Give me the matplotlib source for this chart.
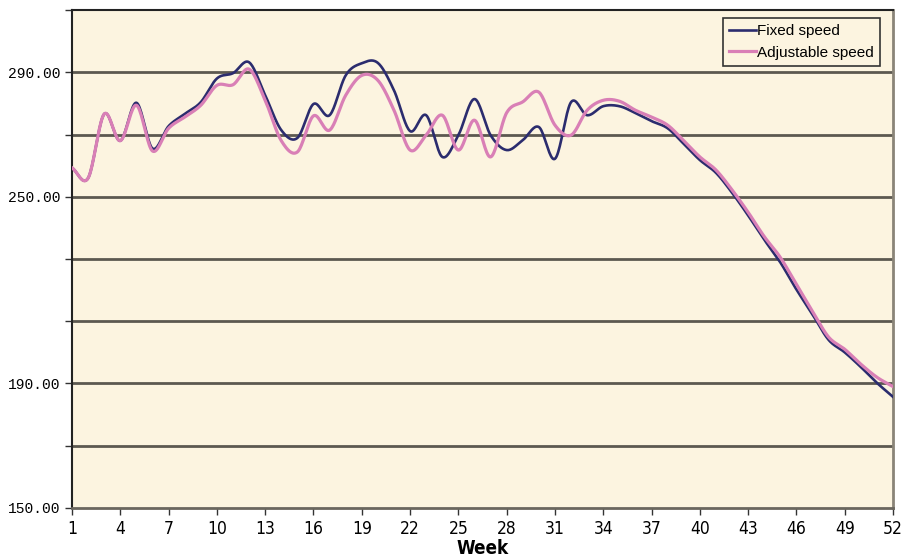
import numpy as np
import matplotlib
matplotlib.use('Agg')
import matplotlib.pyplot as plt

# weekly values
weeks = list(range(1, 53))
fixed_speed = [259.3, 256.0, 276.6, 268.0, 280.2, 265.5, 272.7, 276.6, 280.4, 288.0,
               289.7, 293.2, 282.6, 271.4, 268.9, 279.8, 276.2, 289.0, 292.9, 293.0,
               284.2, 271.1, 276.2, 262.8, 269.8, 281.4, 269.8, 265.0, 268.2, 272.4,
               262.2, 280.4, 276.2, 279.1, 279.1, 276.9, 274.3, 272.0, 267.0, 261.8,
               257.7, 251.3, 244.0, 236.2, 228.9, 220.2, 212.2, 204.0, 200.0, 195.3,
               190.2, 185.7]
adjustable_speed = [259.3, 256.0, 276.6, 268.0, 279.4, 264.7, 272.0, 275.6, 279.4, 285.8,
                    286.0, 291.0, 281.0, 268.0, 264.4, 276.0, 271.4, 282.6, 289.0, 287.4,
                    277.8, 265.0, 269.8, 276.2, 265.0, 274.6, 262.8, 277.0, 280.5, 283.6,
                    273.0, 269.8, 277.8, 281.0, 280.7, 277.8, 275.6, 273.0, 268.0, 262.8,
                    258.6, 252.2, 245.0, 237.2, 230.5, 221.8, 213.2, 204.9, 201.0, 196.2,
                    192.0, 189.0]
week_ticks = list(range(1, 53, 3))
value_ticks = list(range(150, 311, 20))
value_labels = {150: '150.00', 190: '190.00', 250: '250.00', 290: '290.00'}


def smooth(x, y, n=20):
    # Catmull-Rom curve through the points, like Excel's smoothed line
    x = np.asarray(x, float)
    y = np.asarray(y, float)
    px = np.concatenate([[2 * x[0] - x[1]], x, [2 * x[-1] - x[-2]]])
    py = np.concatenate([[2 * y[0] - y[1]], y, [2 * y[-1] - y[-2]]])
    t = np.linspace(0, 1, n, endpoint=False)
    xs, ys = [], []
    for i in range(1, len(px) - 2):
        for p, out in ((px, xs), (py, ys)):
            p0, p1, p2, p3 = p[i - 1], p[i], p[i + 1], p[i + 2]
            out.extend(0.5 * (2 * p1 + (-p0 + p2) * t
                              + (2 * p0 - 5 * p1 + 4 * p2 - p3) * t ** 2
                              + (-p0 + 3 * p1 - 3 * p2 + p3) * t ** 3))
    xs.append(x[-1])
    ys.append(y[-1])
    return xs, ys


narrow = dict(family='DejaVu Sans', stretch='condensed')

fig = plt.figure(figsize=(9.07, 5.6), dpi=100)
ax = fig.add_axes([0.0794, 0.0929, 0.9052, 0.8892])
ax.set_facecolor('#fcf4e0')

for v in value_ticks[1:-1]:
    ax.axhline(v, color='#5c5850', lw=2, zorder=1)

ax.plot(*smooth(weeks, fixed_speed), color='#2b2c6e', lw=1.9, label='Fixed speed', zorder=3)
ax.plot(*smooth(weeks, adjustable_speed), color='#d97fb6', lw=2.3, label='Adjustable speed', zorder=4)

ax.set_xlim(1, 52)
ax.set_ylim(150, 310)
ax.set_xticks(week_ticks)
ax.set_xticklabels([str(w) for w in week_ticks], fontsize=12.5, **narrow)
ax.set_yticks(value_ticks)
ax.set_yticklabels([value_labels.get(v, '') for v in value_ticks], fontsize=10.5,
                   family=['Liberation Mono', 'DejaVu Sans Mono'])
ax.tick_params(direction='out', length=5, width=1, color='#333333')
ax.set_xlabel('Week', fontsize=13.5, fontweight='bold', labelpad=1, **narrow)

for side in ['left', 'top']:
    ax.spines[side].set_color('#222222')
    ax.spines[side].set_linewidth(1.5)
ax.spines['right'].set_color('#8a8478')
ax.spines['right'].set_linewidth(2)
ax.spines['bottom'].set_color('#6a665e')
ax.spines['bottom'].set_linewidth(2)

leg = ax.legend(loc='upper right', bbox_to_anchor=(0.9895, 0.993),
                frameon=True, fancybox=False, framealpha=1, handlelength=1.8,
                handletextpad=0.05, borderpad=0.4, labelspacing=0.5, borderaxespad=0.3,
                prop={'family': ['Liberation Sans', 'DejaVu Sans'], 'size': 11})
leg.get_frame().set_edgecolor('#333333')
leg.get_frame().set_facecolor('#fcf4e0')
leg.get_frame().set_linewidth(1.2)

plt.savefig('out.png', dpi=100)
